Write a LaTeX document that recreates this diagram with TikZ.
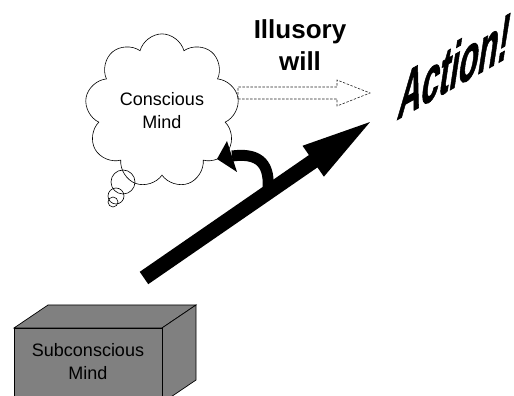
\documentclass[tikz,border=0pt]{standalone}
\usepackage{fontspec}
\setmainfont{Liberation Sans}
\newfontfamily\accionfont{Liberation Sans}[BoldFeatures={FakeBold=1.5}]
\usetikzlibrary{shapes.symbols}

\definecolor{cajagris}{RGB}{128,128,128}
\tikzset{
  caja/.style={draw=black, fill=cajagris, line width=0.7},
  burbuja/.style={draw=black, line width=0.6},
  texto/.style={font=\fontsize{18}{23}\selectfont, align=center},
  hueca/.style={draw=black!85, line width=0.6, dash pattern=on 2.5pt off 1.5pt}
}

\begin{document}
\begin{tikzpicture}[x=1pt,y=1pt]
	\useasboundingbox (0,0) rectangle (514,396);
	% Caja
		\draw[caja] (14,68) -- (48,91) -- (196,91) -- (162,68) -- cycle;
		\draw[caja] (162,68) -- (196,91) -- (196,16) -- (162,-7) -- cycle;
		\draw[caja] (14,-7) rectangle (162,68);
		\node[texto] (subconsciente) at (88,34) {Subconscious\\Mind};

	% Nube
		\node[cloud, cloud puffs=9, aspect=1, burbuja, fill=white,
		      minimum width=135, minimum height=138, texto] (consciente) at (162,285) {Conscious\\Mind};
		\draw[burbuja] (123,214) circle[radius=12];
		\draw[burbuja] (116,200) circle[radius=8];
		\draw[burbuja] (113,194) circle[radius=5];

	% Voluntad ilusoria
		\node[font=\fontsize{26}{32}\selectfont\bfseries, align=center] (ilusoria) at (300,351) {Illusory\\will};
		\draw[hueca] (238,297) -- (337,297) -- (337,290) -- (370,303) -- (337,316) -- (337,309) -- (238,309) -- cycle;

	% Accion
		\node[font=\fontsize{68}{68}\selectfont\accionfont\bfseries, inner sep=0, cm={0.47,0.265,0.15,1,(0,0)}, transform shape] (accion) at (455,331) {Action!};

	% Flecha grande
		\coordinate (origen) at (144,118);
		\coordinate (punta) at (370,274);
		\begin{scope}[shift={(origen)}, rotate=34.61]
			\fill (0,-7.5) -- (205.6,-7.5) -- (205.6,-18.8) -- (274.6,0) -- (205.6,18.8) -- (205.6,7.5) -- (0,7.5) -- cycle;
		\end{scope}

	% Flecha curva
		\coordinate (brote) at (268,208);
		\coordinate (retorno) at (217,237);
		\draw[line width=11] (brote) .. controls (270,236) and (255,243) .. (232,240);
		\fill (retorno) -- (227,255) -- (237,224) -- cycle;
\end{tikzpicture}
\end{document}
